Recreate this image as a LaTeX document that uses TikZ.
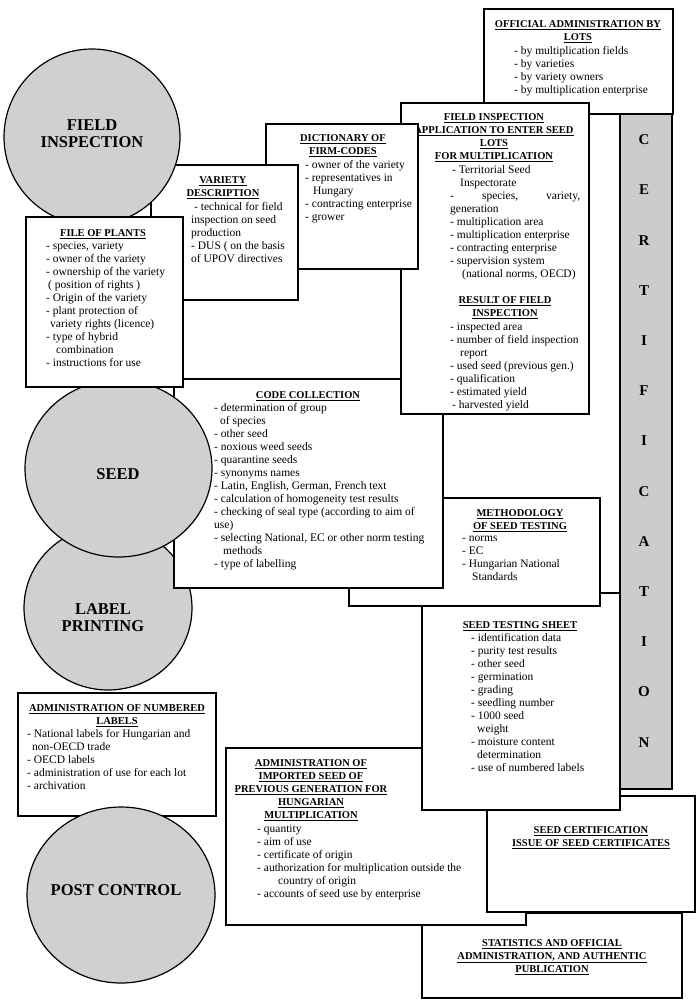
\documentclass[tikz,border=0pt]{standalone}
\usepackage{fontspec}
\setmainfont{Liberation Serif}
\usepackage{tikz}
\usetikzlibrary{shapes.geometric}
\definecolor{discgray}{RGB}{208,208,208}
\definecolor{bargray}{RGB}{204,204,204}
\tikzset{>=latex}
\tikzset{
    panel/.style={draw, fill=white, line width=1.5pt, anchor=north west, inner sep=0pt},
    disc/.style={draw, fill=discgray, ellipse, line width=1.2pt, inner sep=0pt},
    head/.style={align=center, anchor=north, inner sep=0pt, font=\fontsize{10.5}{13}\selectfont\bfseries},
    items/.style={align=left, anchor=north west, inner sep=0pt, font=\fontsize{11.5}{13}\selectfont},
    big/.style={align=center, inner sep=0pt, font=\fontsize{16.5}{17}\selectfont\bfseries},
}
\newcommand{\hd}[1]{\underline{#1}}

\begin{document}
\begin{tikzpicture}[x=1pt, y=-1pt]
    \fill[white] (0,0) rectangle (700,1005);
    \useasboundingbox (0,0) rectangle (700,1005);
    % lower right stack
    \node[panel, minimum width=260pt, minimum height=85pt] (stats) at (421,912) {};
    \node[head] (statshead) at (552,939.5) {\hd{STATISTICS AND OFFICIAL}\\\hd{ADMINISTRATION, AND AUTHENTIC}\\\hd{PUBLICATION}};
    \node[panel, minimum width=300pt, minimum height=177pt] (imported) at (225,747) {};
    \node[head] (importedhead) at (311,759.5) {\hd{ADMINISTRATION OF}\\\hd{IMPORTED SEED OF}\\\hd{PREVIOUS GENERATION FOR}\\\hd{HUNGARIAN}\\\hd{MULTIPLICATION}};
    \node[items] (importeditems) at (257,824.5) {- quantity\\- aim of use\\- certificate of origin\\- authorization for multiplication outside the\\\hspace{21pt}country of origin\\- accounts of seed use by enterprise};
    \node[panel, minimum width=208pt, minimum height=116pt] (cert) at (486,795) {};
    \node[head] (certhead) at (591,826.5) {\hd{SEED CERTIFICATION}\\\hd{ISSUE OF SEED CERTIFICATES}};
    \node[panel, minimum width=198pt, minimum height=217pt] (sheet) at (421,592) {};
    \node[head] (sheethead) at (520,621.5) {\hd{SEED TESTING SHEET}};
    \node[items] (sheetitems) at (471,633.5) {- identification data\\- purity test results\\- other seed\\- germination\\- grading\\- seedling number\\- 1000 seed\\\hspace{6pt}weight\\- moisture content\\\hspace{6pt}determination\\- use of numbered labels};
    \node[panel, minimum width=251pt, minimum height=108pt] (method) at (348,497) {};
    \node[head] (methodhead) at (520,509.5) {\hd{METHODOLOGY}\\\hd{OF SEED TESTING}};
    \node[items] (methoditems) at (462,535.5) {- norms\\- EC\\- Hungarian National\\\hspace{10pt}Standards};
    % left column, lower part
    \node[disc, minimum width=168pt, minimum height=164pt] (labelc) at (108,608) {};
    \node[big] (labelt) at (103,618) {LABEL\\PRINTING};
    \node[panel, minimum width=198pt, minimum height=123pt] (numbered) at (17,692) {};
    \node[head] (numberedhead) at (117,704.5) {\hd{ADMINISTRATION OF NUMBERED}\\\hd{LABELS}};
    \node[items] (numbereditems) at (27,729.5) {- National labels for Hungarian and\\\hspace{5pt}non-OECD trade\\- OECD labels\\- administration of use for each lot\\- archivation};
    \node[disc, minimum width=188pt, minimum height=176pt] (postc) at (121,895) {};
    \node[big] (postt) at (116,890) {POST CONTROL};
    \node[panel, minimum width=269pt, minimum height=209pt] (code) at (173,378) {};
    \node[head] (codehead) at (308,391.5) {\hd{CODE COLLECTION}};
    \node[items] (codeitems) at (214,403.5) {- determination of group\\\hspace{6pt}of species\\- other seed\\- noxious weed seeds\\- quarantine seeds\\- synonyms names\\- Latin, English, German, French text\\- calculation of homogeneity test results\\- checking of seal type (according to aim of\\use)\\- selecting National, EC or other norm testing\\\hspace{9pt}methods\\- type of labelling};
    \node[disc, minimum width=187pt, minimum height=177pt] (seedc) at (118.5,468.5) {};
    \node[big] (seedt) at (118,474) {SEED};
    % upper part
    \node[panel, minimum width=189pt, minimum height=105pt] (official) at (483,8) {};
    \node[head] (officialhead) at (578,20.5) {\hd{OFFICIAL ADMINISTRATION BY}\\\hd{LOTS}};
    \node[items] (officialitems) at (514,46.5) {- by multiplication fields\\- by varieties\\- by variety owners\\- by multiplication enterprise};
    \node[draw, fill=bargray, line width=1.5pt, anchor=north west, inner sep=0pt, minimum width=52pt, minimum height=675pt] (bar) at (619,113) {};
    \node[align=center, inner sep=0pt, font=\fontsize{15}{50.2}\selectfont\bfseries] (bartext) at (644,441) {C\\E\\R\\T\\I\\F\\I\\C\\A\\T\\I\\O\\N};
    \node[panel, minimum width=188pt, minimum height=311pt] (fieldapp) at (400,102) {};
    \node[head] (fieldapphead) at (494,113.5) {\hd{FIELD INSPECTION}\\\hd{APPLICATION TO ENTER SEED}\\\hd{LOTS}\\\hd{FOR MULTIPLICATION}};
    \node[items] (fieldappitems) at (450,165.5) {\hspace{2pt}- Territorial Seed\\\hspace{10pt}Inspectorate\\\hbox to 130pt{-\hfill species,\hfill variety,}\\generation\\- multiplication area\\- multiplication enterprise\\- contracting enterprise\\- supervision system\\\hspace{12pt}(national norms, OECD)};
    \node[head] (resulthead) at (505,296.5) {\hd{RESULT OF FIELD}\\\hd{INSPECTION}};
    \node[items] (resultitems) at (450,322.5) {- inspected area\\- number of field inspection\\\hspace{10pt}report\\- used seed (previous gen.)\\- qualification\\- estimated yield\\\hspace{2pt}- harvested yield};
    \node[panel, minimum width=152pt, minimum height=145pt] (dict) at (265,123) {};
    \node[head] (dicthead) at (343,134.5) {\hd{DICTIONARY OF}\\\hd{FIRM-CODES}};
    \node[items] (dictitems) at (305,160.5) {- owner of the variety\\- representatives in\\\hspace{8pt}Hungary\\- contracting enterprise\\- grower};
    \node[panel, minimum width=147pt, minimum height=135pt] (variety) at (150,164) {};
    \node[head] (varietyhead) at (223,176.5) {\hd{VARIETY}\\\hd{DESCRIPTION}};
    \node[items] (varietyitems) at (191,202.5) {\hspace{3pt}- technical for field\\inspection on seed\\production\\- DUS ( on the basis\\of UPOV directives};
    \node[disc, minimum width=176pt, minimum height=176pt] (fieldc) at (92,137) {};
    \node[big] (fieldt) at (92,133.5) {FIELD\\INSPECTION};
    \node[panel, minimum width=157pt, minimum height=170pt] (plants) at (25,216) {};
    \node[head] (plantshead) at (103,229.5) {\hd{FILE OF PLANTS}};
    \node[items] (plantsitems) at (46,241.5) {- species, variety\\- owner of the variety\\- ownership of the variety\\\hspace{2pt}( position of rights )\\- Origin of the variety\\- plant protection of\\\hspace{4pt}variety rights (licence)\\- type of hybrid\\\hspace{10pt}combination\\- instructions for use};
\end{tikzpicture}
\end{document}
